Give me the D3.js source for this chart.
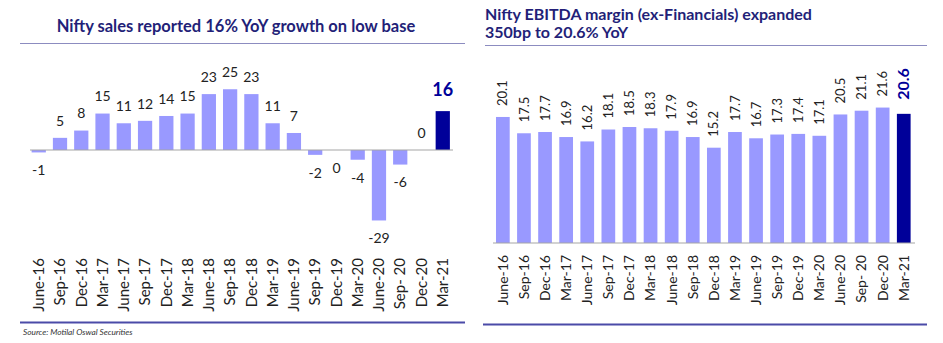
<!DOCTYPE html>
<html>
<head>
<meta charset="utf-8">
<script src="https://cdn.jsdelivr.net/npm/d3@7"></script>
<style>
  body { margin: 0; background: #fff; }
  svg { font-family: Lato, "Open Sans", sans-serif; }
</style>
</head>
<body>
<div id="chart"></div>
<script>
// quarters shared by both panels
const quarters = ["June-16", "Sep-16", "Dec-16", "Mar-17", "June-17", "Sep-17", "Dec-17", "Mar-18",
  "June-18", "Sep-18", "Dec-18", "Mar-19", "June-19", "Sep-19", "Dec-19", "Mar-20",
  "June-20", "Sep- 20", "Dec-20", "Mar-21"];
// Nifty sales growth YoY (%)
const salesGrowth = [-1, 5, 8, 15, 11, 12, 14, 15, 23, 25, 23, 11, 7, -2, 0, -4, -29, -6, 0, 16];
// Nifty EBITDA margin ex-financials (%)
const ebitdaMargin = [20.1, 17.5, 17.7, 16.9, 16.2, 18.1, 18.5, 18.3, 17.9, 16.9, 15.2, 17.7,
  16.7, 17.3, 17.4, 17.1, 20.5, 21.1, 21.6, 20.6];
// zero labels that sit under the axis
const zeroBelow = ["Dec-19"];

const titleLeft = "Nifty sales reported 16% YoY growth on low base";
const titleRight = ["Nifty EBITDA margin (ex-Financials) expanded", "350bp to 20.6% YoY"];
const source = "Source: Motilal Oswal Securities";

const light = "#9999ff", dark = "#000099", navy = "#231f78";

const svg = d3.select("#chart").append("svg").attr("width", 943).attr("height", 343);

// ---------- left panel ----------
const left = svg.append("g");
left.append("text")
  .attr("x", 236).attr("y", 32)
  .attr("text-anchor", "middle")
  .style("font-size", "16.5px").style("font-weight", "bold")
  .attr("fill", navy)
  .text(titleLeft);
left.append("line").attr("x1", 20).attr("x2", 465).attr("y1", 43.5).attr("y2", 43.5)
  .attr("stroke", "#8c8cc0").attr("stroke-width", 1);

const xL = d3.scaleBand().domain(quarters).range([28, 453.5]).paddingInner(0.33).paddingOuter(0.17);
const yL = d3.scaleLinear().domain([-30, 30]).range([150 + 72.9, 150 - 72.9]);

left.selectAll("rect.bar")
  .data(salesGrowth)
  .join("rect")
  .attr("class", "bar")
  .attr("x", (d, i) => xL(quarters[i]))
  .attr("width", xL.bandwidth())
  .attr("y", d => yL(Math.max(0, d)))
  .attr("height", d => Math.abs(yL(d) - yL(0)))
  .attr("fill", (d, i) => i == quarters.length - 1 ? dark : light);

left.append("line")
  .attr("x1", 30).attr("x2", 453).attr("y1", yL(0)).attr("y2", yL(0))
  .attr("stroke", "#a6a6a6").attr("stroke-width", 1.2);

left.selectAll("text.val")
  .data(salesGrowth)
  .join("text")
  .attr("class", "val")
  .attr("x", (d, i) => xL(quarters[i]) + xL.bandwidth() / 2)
  .attr("y", (d, i) => {
    const below = d < 0 || (d == 0 && zeroBelow.includes(quarters[i]));
    if (i == quarters.length - 1) return yL(d) - 21;
    return below ? yL(Math.min(0, d)) + 18 : yL(d) - 17;
  })
  .attr("dy", "0.35em")
  .attr("text-anchor", "middle")
  .style("font-size", (d, i) => i == quarters.length - 1 ? "18px" : "14px")
  .style("font-weight", (d, i) => i == quarters.length - 1 ? "bold" : "normal")
  .attr("fill", (d, i) => i == quarters.length - 1 ? dark : "#222")
  .text(d => d);

left.append("g")
  .attr("transform", "translate(0,258)")
  .call(d3.axisBottom(xL).tickSize(0).tickPadding(0))
  .call(g => g.select(".domain").remove())
  .selectAll("text")
  .attr("transform", "rotate(-90)")
  .attr("x", 0).attr("y", 0).attr("dy", "0.35em")
  .attr("text-anchor", "end")
  .style("font-size", "15px")
  .style("font-family", "Lato, 'Open Sans', sans-serif")
  .attr("fill", "#222");

left.append("line").attr("x1", 20).attr("x2", 465).attr("y1", 322.5).attr("y2", 322.5)
  .attr("stroke", "#4b4ba8").attr("stroke-width", 2);
left.append("text")
  .attr("x", 23).attr("y", 335)
  .style("font-size", "8.3px").style("font-style", "italic")
  .attr("fill", "#333")
  .text(source);

// ---------- right panel ----------
const right = svg.append("g");
right.selectAll("text.title")
  .data(titleRight)
  .join("text")
  .attr("class", "title")
  .attr("x", 485).attr("y", (d, i) => 20 + i * 18)
  .style("font-size", "16px").style("font-weight", "bold")
  .attr("fill", navy)
  .text(d => d);
right.append("line").attr("x1", 485).attr("x2", 927).attr("y1", 45.5).attr("y2", 45.5)
  .attr("stroke", "#8c8cc0").attr("stroke-width", 1);

const xR = d3.scaleBand().domain(quarters).range([492.3, 914.3]).paddingInner(0.35).paddingOuter(0.175);
const yR = d3.scaleLinear().domain([0, 25]).range([243, 243 - 156.75]);

right.selectAll("rect.bar")
  .data(ebitdaMargin)
  .join("rect")
  .attr("class", "bar")
  .attr("x", (d, i) => xR(quarters[i]))
  .attr("width", xR.bandwidth())
  .attr("y", d => yR(d))
  .attr("height", d => yR(0) - yR(d))
  .attr("fill", (d, i) => i == quarters.length - 1 ? dark : light);

right.append("line")
  .attr("x1", 493).attr("x2", 915).attr("y1", yR(0)).attr("y2", yR(0))
  .attr("stroke", "#a6a6a6").attr("stroke-width", 1.2);

right.selectAll("text.val")
  .data(ebitdaMargin)
  .join("text")
  .attr("class", "val")
  .attr("transform", (d, i) => {
    const cx = xR(quarters[i]) + xR.bandwidth() / 2;
    const gap = i == quarters.length - 1 ? 14 : 11;
    return "translate(" + cx + "," + (yR(d) - gap) + ") rotate(-90)";
  })
  .attr("dy", "0.35em")
  .attr("text-anchor", "start")
  .style("font-size", (d, i) => i == quarters.length - 1 ? "16px" : "13px")
  .style("font-weight", (d, i) => i == quarters.length - 1 ? "bold" : "normal")
  .attr("fill", (d, i) => i == quarters.length - 1 ? dark : "#222")
  .text(d => d.toFixed(1));

right.append("g")
  .attr("transform", "translate(0,255)")
  .call(d3.axisBottom(xR).tickSize(0).tickPadding(0))
  .call(g => g.select(".domain").remove())
  .selectAll("text")
  .attr("transform", "rotate(-90)")
  .attr("x", 0).attr("y", 0).attr("dy", "0.35em")
  .attr("text-anchor", "end")
  .style("font-size", "14px")
  .style("font-family", "Lato, 'Open Sans', sans-serif")
  .attr("fill", "#222");

right.append("line").attr("x1", 483).attr("x2", 927).attr("y1", 324.5).attr("y2", 324.5)
  .attr("stroke", "#4b4ba8").attr("stroke-width", 2);
</script>
</body>
</html>
